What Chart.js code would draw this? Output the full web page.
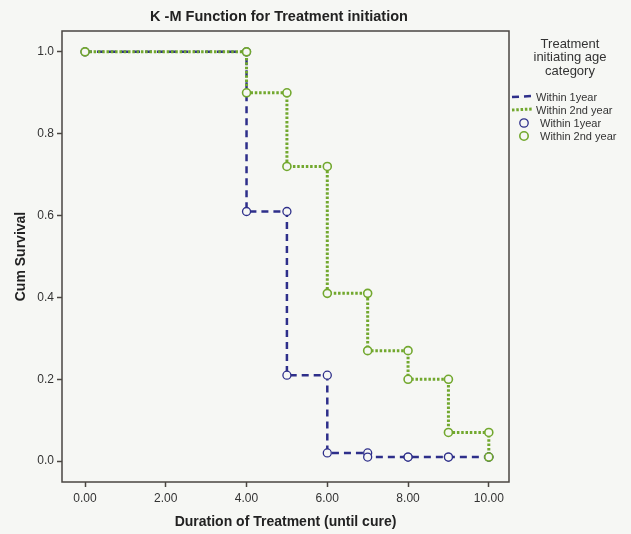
<!DOCTYPE html>
<html>
<head>
<meta charset="utf-8">
<script src="https://cdn.jsdelivr.net/npm/chart.js@4"></script>
<style>
  html, body { margin: 0; padding: 0; background: #f6f7f4; }
  #wrap { width: 631px; height: 534px; }
</style>
</head>
<body>
<div id="wrap"><canvas id="km" width="631" height="534"></canvas></div>
<script>
// K-M step data (time, cumulative survival)
var timesBlue = [0, 4, 5, 6, 7, 8, 9, 10];
var survBlue = [1.0, 0.61, 0.21, 0.02, 0.01, 0.01, 0.01, 0.01];
var timesGreen = [0, 4, 5, 6, 7, 8, 9, 10];
var survGreen = [1.0, 0.90, 0.72, 0.41, 0.27, 0.20, 0.07, 0.01];
var seriesNames = ['Within 1year', 'Within 2nd year'];
var xTicks = [0, 2, 4, 6, 8, 10];
var yTicks = [0, 0.2, 0.4, 0.6, 0.8, 1.0];

var navy = '#2e2f8a';
var green = '#72a82e';
var bg = '#f6f7f4';

function steps(t, s) {
    return t.map(function (v, i) { return { x: v, y: s[i] }; });
}
// circles sit on both corners of every step
function corners(t, s) {
    var pts = [{ x: t[0], y: s[0] }];
    for (var i = 1; i < t.length; i++) {
        pts.push({ x: t[i], y: s[i - 1] });
        pts.push({ x: t[i], y: s[i] });
    }
    return pts;
}

var boxAndText = {
    id: 'boxAndText',
    afterDraw: function (chart) {
        var ctx = chart.ctx;
        var a = chart.chartArea;
        ctx.save();
        ctx.strokeStyle = '#4a4641';
        ctx.lineWidth = 1.5;
        ctx.strokeRect(a.left, a.top, a.right - a.left, a.bottom - a.top);

        // title
        ctx.fillStyle = '#222';
        ctx.font = 'bold 14.5px "Liberation Sans", Arial, sans-serif';
        ctx.textAlign = 'center';
        ctx.textBaseline = 'middle';
        ctx.fillText('K -M Function for Treatment initiation', 279, 17);

        // legend
        ctx.font = '13px "Liberation Sans", Arial, sans-serif';
        ctx.fillStyle = '#333';
        ['Treatment', 'initiating age', 'category'].forEach(function (l, i) {
            ctx.fillText(l, 570, 44 + i * 13.5);
        });
        ctx.font = '11px "Liberation Sans", Arial, sans-serif';
        ctx.textAlign = 'left';
        var ds = chart.data.datasets;
        [0, 1, 2, 3].forEach(function (idx, i) {
            var d = ds[idx];
            var y = 97 + i * 13;
            var tx;
            ctx.save();
            ctx.strokeStyle = d.borderColor;
            ctx.lineWidth = d.borderWidth;
            if (!d.isMarker) {
                ctx.setLineDash(d.borderDash);
                ctx.beginPath();
                ctx.moveTo(512, y);
                ctx.lineTo(532, y - 1);
                ctx.stroke();
                tx = 536;
            } else {
                ctx.fillStyle = bg;
                ctx.beginPath();
                ctx.arc(524, y, 4.2, 0, Math.PI * 2);
                ctx.fill();
                ctx.stroke();
                tx = 540;
            }
            ctx.restore();
            ctx.fillStyle = '#333';
            ctx.fillText(d.label, tx, y + 1);
        });
        ctx.restore();
    }
};

new Chart(document.getElementById('km'), {
    type: 'line',
    data: {
        datasets: [{
            label: seriesNames[0],
            type: 'line',
            data: steps(timesBlue, survBlue),
            stepped: true,
            borderColor: navy,
            borderWidth: 2.5,
            borderDash: [7, 5],
            pointRadius: 0,
            fill: false,
            order: 3
        }, {
            label: seriesNames[1],
            type: 'line',
            data: steps(timesGreen, survGreen),
            stepped: true,
            borderColor: green,
            borderWidth: 3,
            borderDash: [2.5, 1.8],
            pointRadius: 0,
            fill: false,
            order: 2
        }, {
            label: seriesNames[0],
            type: 'scatter',
            isMarker: true,
            data: corners(timesBlue, survBlue),
            showLine: false,
            borderColor: navy,
            backgroundColor: bg,
            borderWidth: 1.3,
            pointRadius: 4,
            order: 1
        }, {
            label: seriesNames[1],
            type: 'scatter',
            isMarker: true,
            data: corners(timesGreen, survGreen),
            showLine: false,
            borderColor: green,
            backgroundColor: bg,
            borderWidth: 1.6,
            pointRadius: 4,
            order: 0
        }]
    },
    options: {
        responsive: false,
        animation: false,
        layout: { padding: { top: 31, right: 122, bottom: 0, left: 0 } },
        plugins: {
            legend: { display: false },
            title: { display: false },
            tooltip: { enabled: false }
        },
        scales: {
            x: {
                type: 'linear',
                min: -0.57,
                max: 10.5,
                afterBuildTicks: function (s) { s.ticks = xTicks.map(function (v) { return { value: v }; }); },
                afterFit: function (s) { s.height = 52; },
                border: { display: false },
                grid: { drawOnChartArea: false, color: '#4a4641', tickLength: 5, tickWidth: 1.5 },
                ticks: {
                    padding: 4,
                    color: '#333',
                    font: { size: 12, family: '"Liberation Sans", Arial, sans-serif' },
                    callback: function (v) { return v.toFixed(2); }
                },
                title: {
                    display: true,
                    text: 'Duration of Treatment (until cure)',
                    color: '#222',
                    font: { size: 14, weight: 'bold', family: '"Liberation Sans", Arial, sans-serif' },
                    padding: { top: 0, bottom: 3 }
                }
            },
            y: {
                type: 'linear',
                min: -0.051,
                max: 1.051,
                afterBuildTicks: function (s) { s.ticks = yTicks.map(function (v) { return { value: v }; }); },
                afterFit: function (s) { s.width = 62; },
                border: { display: false },
                grid: { drawOnChartArea: false, color: '#4a4641', tickLength: 5, tickWidth: 1.5 },
                ticks: {
                    padding: 3,
                    color: '#333',
                    font: { size: 12, family: '"Liberation Sans", Arial, sans-serif' },
                    callback: function (v) { return v.toFixed(1); }
                },
                title: {
                    display: true,
                    text: 'Cum Survival',
                    color: '#222',
                    font: { size: 14, weight: 'bold', family: '"Liberation Sans", Arial, sans-serif' },
                    padding: { top: 13, bottom: 0 }
                }
            }
        }
    },
    plugins: [boxAndText]
});
</script>
</body>
</html>
